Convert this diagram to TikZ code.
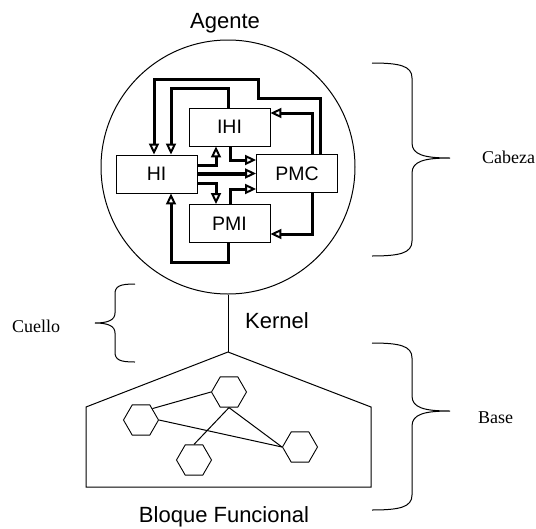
\documentclass[tikz,border=0pt]{standalone}
\usepackage{fontspec}
\setmainfont{Liberation Serif}
\setsansfont{Liberation Sans}
\usetikzlibrary{arrows.meta,positioning,shapes.geometric}

\begin{document}
\begin{tikzpicture}[
  x=1pt, y=-1pt,
  font=\sffamily,
  box/.style={draw, rectangle, minimum width=81pt, minimum height=38pt, inner sep=0pt, line width=0.9pt, font=\sffamily\fontsize{19.5}{22}\selectfont},
  hexa/.style={draw, regular polygon, regular polygon sides=6, minimum size=35pt, inner sep=0pt, line width=0.9pt},
  >={Triangle[open, length=11pt, width=10pt, line width=2pt]},
  arrline/.style={->, line width=3pt},
  edgeline/.style={line width=1pt},
  biglbl/.style={anchor=base, inner sep=0pt, font=\sffamily\fontsize{22}{26}\selectfont},
  sidelbl/.style={anchor=base west, inner sep=0pt, font=\rmfamily\fontsize{18}{21}\selectfont},
]
\useasboundingbox (0,0) rectangle (536,528);
% agente (cabeza)
\node[draw, circle, minimum size=254pt, inner sep=0pt, line width=1pt] (agente) at (228,167) {};
\node[biglbl] (agentelbl) at (225,28) {Agente};
\node[box] (hi) at (156.5,174) {HI};
\node[box] (ihi) at (229.5,127) {IHI};
\node[box] (pmc) at (297,173.5) {PMC};
\node[box] (pmi) at (229.5,223.5) {PMI};
\draw[arrline] (320,0 |- pmc.north) |- (258,98) |- (154,79) -- (154,0 |- hi.north);
\draw[arrline] (228,0 |- ihi.north) |- (171,88) -- (171,0 |- hi.north);
\draw[arrline] (312,0 |- pmc.north) |- (ihi.east |- 0,113);
\draw[arrline] (312,0 |- pmc.south) |- (pmi.east |- 0,234);
\draw[arrline] (228,0 |- pmi.south) |- (171,262) -- (171,0 |- hi.south);
\draw[arrline] (hi.east |- 0,165) -| (216,0 |- ihi.south);
\draw[arrline, line width=4pt] (hi.east |- 0,173.5) -- (pmc.west |- 0,173.5);
\draw[arrline] (hi.east |- 0,183) -| (216,0 |- pmi.north);
\draw[arrline] (230,0 |- ihi.south) |- (pmc.west |- 0,160);
\draw[arrline] (230,0 |- pmi.north) |- (pmc.west |- 0,189);
% kernel (cuello)
\coordinate (apex) at (228,352);
\draw[edgeline] (agente.south) -- (apex);
\node[biglbl] (kernellbl) at (277,328) {Kernel};
% bloque funcional (base)
\draw[edgeline] (86,487) -- (86,407) -- (apex) -- (371,407) -- (371,487) -- cycle;
\node[hexa] (hexa) at (229,392) {};
\node[hexa] (hexb) at (141,420) {};
\node[hexa] (hexc) at (300,447) {};
\node[hexa] (hexd) at (194,460) {};
\draw[edgeline] (hexb.north east) -- (hexa.west);
\draw[edgeline] (hexb.east) -- (hexc.west);
\draw[edgeline] (hexa.south) -- (hexc.west);
\draw[edgeline] (hexa.south) -- (hexd.north);
\node[biglbl] (bloquelbl) at (224,522) {Bloque Funcional};
% llaves
\draw[edgeline] (372,63) .. controls (400,63) and (412,66) .. (412,78) -- (412,143)
  .. controls (412,155) and (425,158) .. (450,158) .. controls (425,158) and (412,161) .. (412,173)
  -- (412,241) .. controls (412,253) and (400,256) .. (372,256);
\node[sidelbl] (cabezalbl) at (482,163) {Cabeza};
\draw[edgeline] (372,343) .. controls (400,343) and (412,346) .. (412,358) -- (412,396)
  .. controls (412,408) and (425,411) .. (450,411) .. controls (425,411) and (412,414) .. (412,426)
  -- (412,495) .. controls (412,507) and (400,510) .. (372,510);
\node[sidelbl] (baselbl) at (478,423) {Base};
\draw[edgeline] (135,284) .. controls (120,284) and (115,286) .. (115,294) -- (115,313)
  .. controls (115,320) and (108,323) .. (95,323) .. controls (108,323) and (115,326) .. (115,333)
  -- (115,352) .. controls (115,360) and (120,362) .. (135,362);
\node[sidelbl] (cuellolbl) at (12,332) {Cuello};
\end{tikzpicture}
\end{document}
